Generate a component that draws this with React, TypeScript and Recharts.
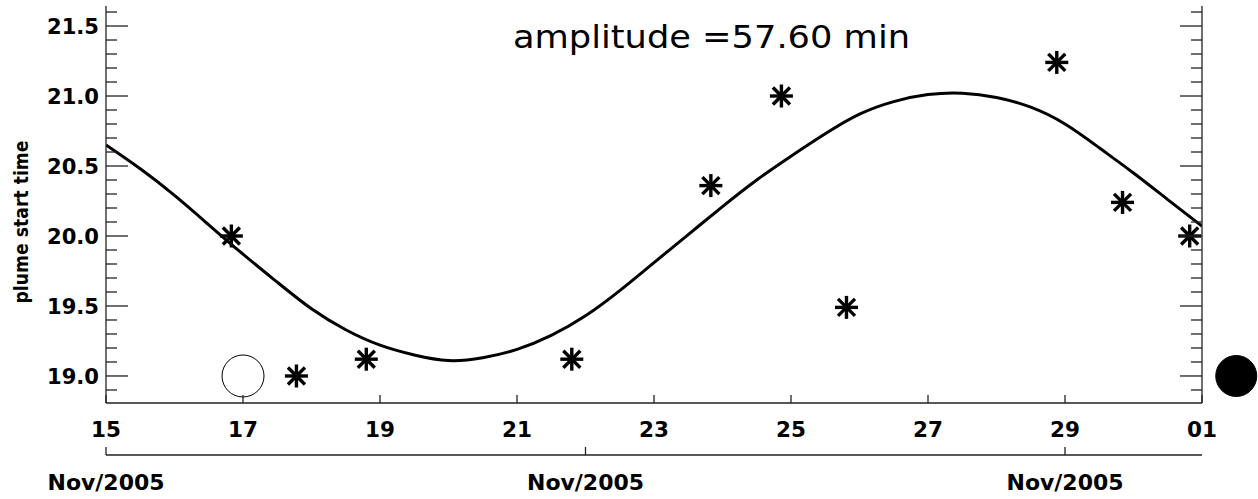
import React from 'react';
import {
  ComposedChart,
  Line,
  Scatter,
  XAxis,
  YAxis,
  ReferenceDot,
} from 'recharts';

// observed plume start times (day of Nov 2005, hour)
const obsDays = [16.83, 17.78, 18.8, 21.8, 23.83, 24.86, 25.81, 28.88, 29.84, 30.82];
const obsHours = [20.0, 19.0, 19.12, 19.12, 20.36, 21.0, 19.49, 21.24, 20.24, 20.0];

// fitted curve
const fitDays = [
  15, 15.5, 16, 16.5, 17, 17.5, 18, 18.5, 19, 19.5, 20, 20.5, 21, 21.5, 22, 22.5,
  23, 23.5, 24, 24.5, 25, 25.5, 26, 26.5, 27, 27.5, 28, 28.5, 29, 29.5, 30, 30.5, 31,
];
const fitHours = [
  20.65, 20.48, 20.29, 20.08, 19.87, 19.67, 19.48, 19.33, 19.22, 19.15, 19.11, 19.13,
  19.19, 19.29, 19.43, 19.61, 19.81, 20.01, 20.21, 20.4, 20.57, 20.73, 20.87, 20.96,
  21.01, 21.02, 20.99, 20.92, 20.8, 20.63, 20.45, 20.26, 20.07,
];

// moon markers
const openMoon = { day: 17.0, hour: 19.0 };
const fullMoon = { day: 31.5, hour: 19.0 };

const dayTicks = [15, 17, 19, 21, 23, 25, 27, 29, 31];
const dayLabels = ['15', '17', '19', '21', '23', '25', '27', '29', '01'];
const monthTicks = [15, 22, 29];
const monthLabel = 'Nov/2005';
const yTicks = [
  18.9, 19.0, 19.1, 19.2, 19.3, 19.4, 19.5, 19.6, 19.7, 19.8, 19.9, 20.0, 20.1, 20.2,
  20.3, 20.4, 20.5, 20.6, 20.7, 20.8, 20.9, 21.0, 21.1, 21.2, 21.3, 21.4, 21.5, 21.6,
];

const obsData = obsDays.map((d, i) => ({ day: d, hour: obsHours[i] }));
const fitData = fitDays.map((d, i) => ({ day: d, hour: fitHours[i] }));

const FONT = '"DejaVu Sans", sans-serif';
const AXIS = { stroke: '#222', strokeWidth: 1.3 };

const isMajor = (v: number) => Math.abs(v * 2 - Math.round(v * 2)) < 1e-6;

function LeftTick({ x, y, payload }: any) {
  const major = isMajor(payload.value);
  return (
    <g>
      <line x1={x} x2={x + (major ? 22 : 11)} y1={y} y2={y} stroke="#222" strokeWidth={1.3} />
      {major && (
        <text x={x - 7} y={y + 8} textAnchor="end" fontFamily={FONT} fontWeight="bold" fontSize={21.5}
          textLength={52} lengthAdjust="spacingAndGlyphs" fill="#000">
          {payload.value.toFixed(1)}
        </text>
      )}
    </g>
  );
}

function RightTick({ x, y, payload }: any) {
  const major = isMajor(payload.value);
  return <line x1={x} x2={x - (major ? 22 : 11)} y1={y} y2={y} stroke="#222" strokeWidth={1.3} />;
}

function DayTick({ x, y, payload }: any) {
  const idx = dayTicks.indexOf(payload.value);
  return (
    <g>
      <line x1={x} x2={x} y1={y} y2={y - 8} stroke="#222" strokeWidth={1.3} />
      <text x={x} y={y + 34} textAnchor="middle" fontFamily={FONT} fontWeight="bold" fontSize={21.5} fill="#000">
        {dayLabels[idx]}
      </text>
    </g>
  );
}

function TopTick({ x, y }: any) {
  return <line x1={x} x2={x} y1={y} y2={y + 8} stroke="#222" strokeWidth={1.3} />;
}

function MonthTick({ x, y }: any) {
  return (
    <g>
      <line x1={x} x2={x} y1={y} y2={y - 8} stroke="#222" strokeWidth={1.3} />
      <text x={x} y={y + 35} textAnchor="middle" fontFamily={FONT} fontWeight="bold" fontSize={21}
        textLength={117} lengthAdjust="spacingAndGlyphs" fill="#000">
        {monthLabel}
      </text>
    </g>
  );
}

function Asterisk({ cx, cy }: any) {
  const s = 11.5;
  const d = 8.5;
  return (
    <g stroke="#000" strokeWidth={3.4}>
      <line x1={cx - s} x2={cx + s} y1={cy} y2={cy} />
      <line x1={cx} x2={cx} y1={cy - s} y2={cy + s} />
      <line x1={cx - d} x2={cx + d} y1={cy - d} y2={cy + d} />
      <line x1={cx - d} x2={cx + d} y1={cy + d} y2={cy - d} />
    </g>
  );
}

export default function App() {
  return (
    <div style={{ position: 'absolute', left: 0, top: 0, width: 1258, height: 499, background: '#fff' }}>
      <ComposedChart width={1258} height={499} margin={{ top: 6, right: 0, bottom: 0, left: 0 }}>
        <XAxis xAxisId="day" type="number" dataKey="day" domain={[15, 31]} allowDataOverflow
          ticks={dayTicks} interval={0} height={52} tickSize={0} tickMargin={0} tickLine={false}
          axisLine={AXIS} tick={<DayTick />} />
        <XAxis xAxisId="month" type="number" dataKey="day" domain={[15, 31]} allowDataOverflow
          ticks={monthTicks} interval={0} height={44} tickSize={0} tickMargin={0} tickLine={false}
          axisLine={AXIS} tick={<MonthTick />} />
        <XAxis xAxisId="top" orientation="top" type="number" dataKey="day" domain={[15, 31]} allowDataOverflow
          ticks={dayTicks} interval={0} height={0} tickSize={0} tickMargin={0} tickLine={false}
          axisLine={AXIS} tick={<TopTick />} />
        <YAxis yAxisId="left" type="number" domain={[18.807, 21.643]} allowDataOverflow
          ticks={yTicks} interval={0} width={106} tickSize={0} tickMargin={0} tickLine={false}
          axisLine={AXIS} tick={<LeftTick />} />
        <YAxis yAxisId="right" orientation="right" type="number" domain={[18.807, 21.643]} allowDataOverflow
          ticks={yTicks} interval={0} width={56} tickSize={0} tickMargin={0} tickLine={false}
          axisLine={AXIS} tick={<RightTick />} />
        <Line xAxisId="day" yAxisId="left" data={fitData} dataKey="hour" type="natural"
          stroke="#000" strokeWidth={3} dot={false} isAnimationActive={false} />
        <Scatter xAxisId="day" yAxisId="left" data={obsData} dataKey="hour"
          shape={<Asterisk />} isAnimationActive={false} />
        <ReferenceDot xAxisId="day" yAxisId="left" x={openMoon.day} y={openMoon.hour} r={21}
          fill="#fff" stroke="#000" strokeWidth={1} ifOverflow="visible" />
        <ReferenceDot xAxisId="day" yAxisId="left" x={fullMoon.day} y={fullMoon.hour} r={20.5}
          fill="#000" stroke="#000" strokeWidth={1} ifOverflow="visible" />
      </ComposedChart>
      <svg width={1258} height={499} style={{ position: 'absolute', left: 0, top: 0, pointerEvents: 'none' }}>
        <text x={513} y={48} fontFamily={FONT} fontSize={32} textLength={397} lengthAdjust="spacingAndGlyphs" fill="#000">
          amplitude =57.60 min
        </text>
        <text transform="translate(28,222) rotate(-90)" textAnchor="middle" fontFamily={FONT}
          fontWeight="bold" fontSize={20} textLength={163} lengthAdjust="spacingAndGlyphs" fill="#000">
          plume start time
        </text>
      </svg>
    </div>
  );
}
